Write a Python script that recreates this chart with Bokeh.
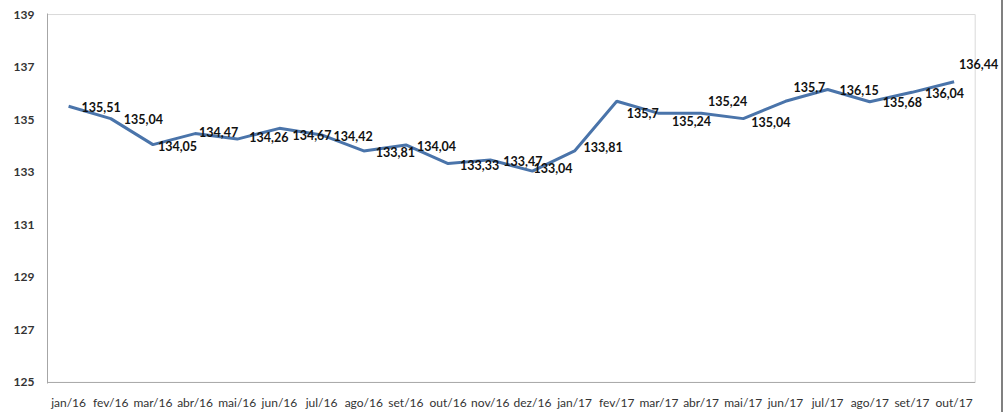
from bokeh.plotting import figure
from bokeh.models import ColumnDataSource, Range1d, FixedTicker, Div, LabelSet
from bokeh.layouts import row
from bokeh.embed import file_html
from bokeh.resources import INLINE
from bokeh.core.properties import value

months = ["jan/16", "fev/16", "mar/16", "abr/16", "mai/16", "jun/16", "jul/16",
          "ago/16", "set/16", "out/16", "nov/16", "dez/16", "jan/17", "fev/17",
          "mar/17", "abr/17", "mai/17", "jun/17", "jul/17", "ago/17", "set/17", "out/17"]
values = [135.51, 135.04, 134.05, 134.47, 134.26, 134.67, 134.42, 133.81, 134.04,
          133.33, 133.47, 133.04, 133.81, 135.7, 135.24, 135.24, 135.04, 135.7,
          136.15, 135.68, 136.04, 136.44]
y_ticks = [125, 127, 129, 131, 133, 135, 137, 139]

# label placement (screen px, y positive = down) relative to each point
label_dx = [13, 13, 5, 4, 12, 13, 12, 12, 11, 12, 13, 1, 9, 10, 13, 7, 8, 8, 12, 13, 13, 5]
label_dy = [1, 0, 1, -2, -2, 7, 1, 1, 1, 1, 1, -3, -4, 12, 8, -12, 3, -14, 1, 0, 1, -18]


def fmt(v):
    s = ("%.2f" % v).rstrip("0").rstrip(".")
    return s.replace(".", ",")


idx = list(range(len(months)))
labels = [fmt(v) for v in values]

src = ColumnDataSource(dict(x=idx, y=values, label=labels, dx=label_dx,
                            dy=[-d for d in label_dy]))

n = len(months)
x_lo, x_hi = -0.5, n - 0.5
y_lo, y_hi = y_ticks[0], y_ticks[-1]

p = figure(width=1001, height=412, x_range=Range1d(x_lo, n + 0.1),
           y_range=Range1d(y_lo - 0.04, y_hi + 0.04), output_backend="svg", toolbar_location=None,
           min_border_left=47, min_border_right=1, min_border_top=13, min_border_bottom=26)
p.background_fill_color = "white"
p.border_fill_color = "white"
p.outline_line_color = None
p.grid.visible = False

# plot-area border: light top/right, gray bottom
p.segment(x0=[x_lo, x_hi], y0=[y_hi, y_lo], x1=[x_hi, x_hi], y1=[y_hi, y_hi],
          line_color="#d9d9d9", line_width=1)
p.segment(x0=[x_lo], y0=[y_lo], x1=[x_hi], y1=[y_lo], line_color="#a6a6a6", line_width=1)

p.line("x", "y", source=src, line_color="#4a74aa", line_width=3)
p.add_layout(LabelSet(x="x", y="y", text="label", source=src, x_offset="dx", y_offset="dy",
                      text_font=value("Lato"), text_font_style="bold", text_font_size="12.5px",
                      text_color="#111111", text_align="left", text_baseline="middle"))

p.yaxis.ticker = FixedTicker(ticks=y_ticks)
p.xaxis.ticker = FixedTicker(ticks=idx)
p.xaxis.major_label_overrides = {i: m for i, m in zip(idx, months)}
for ax in (p.xaxis[0], p.yaxis[0]):
    ax.axis_line_color = "#a6a6a6"
    ax.axis_line_width = 1
    ax.major_tick_line_color = None
    ax.minor_tick_line_color = None
    ax.major_tick_out = 0
    ax.major_tick_in = 0
    ax.major_label_text_font = "Lato"
    ax.major_label_text_font_size = "12px"
    ax.major_label_text_color = "#333333"
p.xaxis.axis_line_color = None
p.yaxis.major_label_standoff = 13
p.xaxis.major_label_standoff = 11
p.yaxis.major_label_text_font_style = "bold"

side = Div(width=7, height=412, margin=0,
           styles={"border-left": "2px solid #808080", "height": "412px", "box-sizing": "border-box"})

layout = row(p, side, margin=0, spacing=0)
open("out.html", "w").write(file_html(layout, INLINE))
